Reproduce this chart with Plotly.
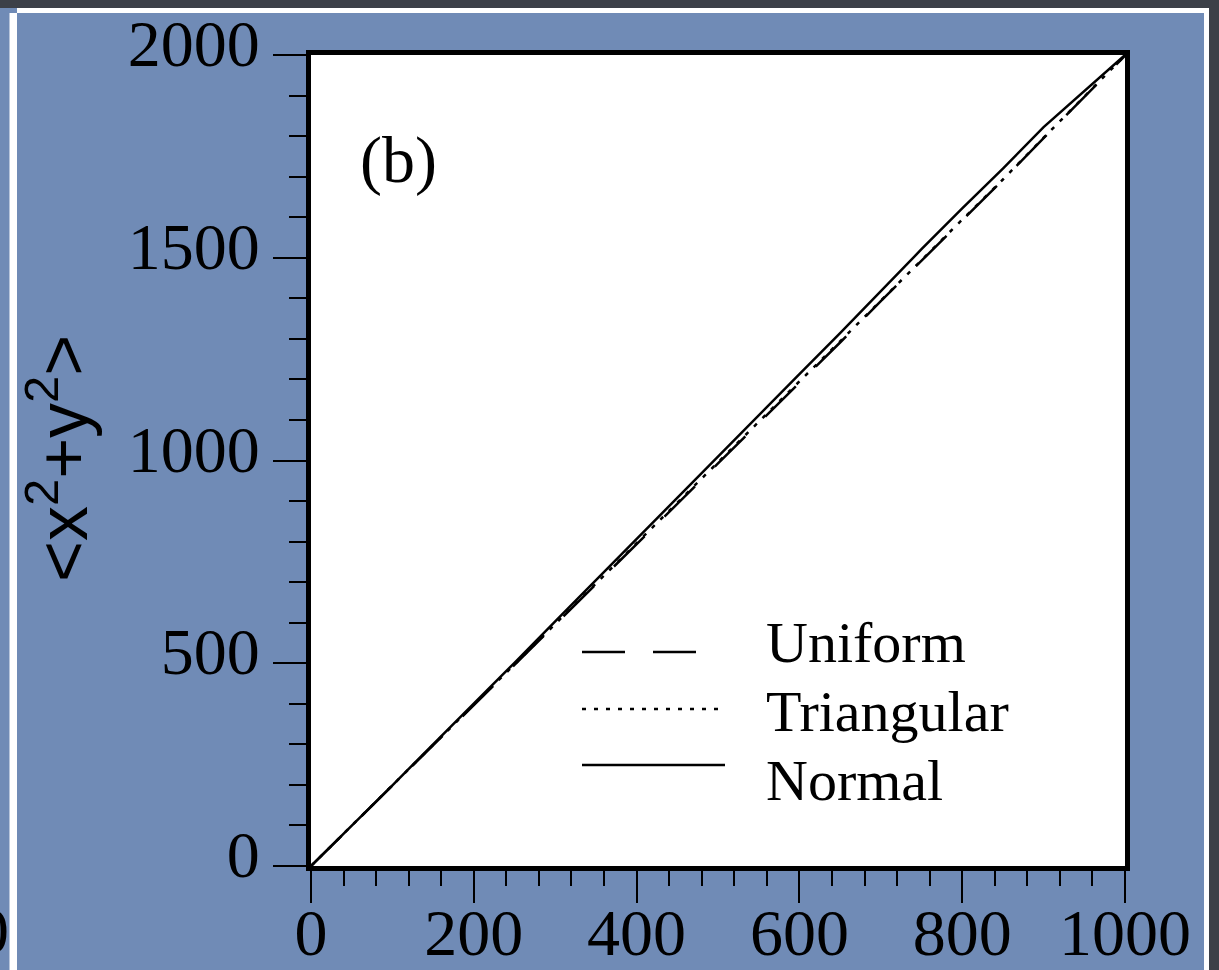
import plotly.graph_objects as go

# ---- data ----
steps = [0, 50, 100, 150, 200, 250, 300, 350, 400, 450, 500,
         550, 600, 650, 700, 750, 800, 850, 900, 950, 1000]
uniform = [0, 99, 198, 297, 397, 496, 595, 694, 794, 893, 993,
           1092, 1192, 1291, 1393, 1492, 1592, 1692, 1795, 1896, 1998]
triangular = [0, 100, 199, 298, 398, 497, 597, 696, 796, 896, 996,
              1095, 1195, 1294, 1395, 1494, 1594, 1693, 1796, 1897, 1999]
normal = [0, 99, 199, 300, 400, 501, 603, 705, 807, 908, 1010,
          1112, 1213, 1314, 1418, 1521, 1622, 1720, 1822, 1910, 2000]

series_names = ["Uniform", "Triangular", "Normal"]
series_dash = ["43px,28px", "4px,8px", "solid"]

x_ticks = [0, 200, 400, 600, 800, 1000]
y_ticks = [0, 500, 1000, 1500, 2000]

W, H = 1219, 970
L, R, T, B = 311, 94, 55, 104
PW, PH = W - L - R, H - T - B

def px(xp):
    return (xp - L) / PW

def py(yp):
    return (H - B - yp) / PH

BLUE = "#708bb6"
DARK = "#3c4048"
SERIF = "Liberation Serif, Times New Roman, serif"
SANS = "Liberation Sans, Arial, sans-serif"

fig = go.Figure()
for name, ys, dash in zip(series_names, [uniform, triangular, normal], series_dash):
    fig.add_trace(go.Scatter(x=steps, y=ys, mode="lines", name=name, showlegend=False,
                             line=dict(color="black", width=2.5, dash=dash)))

shapes = [
    # dark top band and right band
    dict(type="rect", xref="paper", yref="paper", x0=px(0), x1=px(W), y0=py(8), y1=py(0),
         fillcolor=DARK, line_width=0, layer="below"),
    dict(type="rect", xref="paper", yref="paper", x0=px(1209), x1=px(W), y0=py(H), y1=py(0),
         fillcolor=DARK, line_width=0, layer="below"),
    # white frame lines
    dict(type="rect", xref="paper", yref="paper", x0=px(17), x1=px(1209), y0=py(13), y1=py(8),
         fillcolor="white", line_width=0, layer="below"),
    dict(type="rect", xref="paper", yref="paper", x0=px(9.5), x1=px(17), y0=py(H), y1=py(13),
         fillcolor="white", line_width=0, layer="below"),
    dict(type="rect", xref="paper", yref="paper", x0=px(1204), x1=px(1209), y0=py(H), y1=py(8),
         fillcolor="white", line_width=0, layer="below"),
]

# legend key (drawn by hand to match the original's long samples)
key_line_y = [652, 709, 765]
key_text_y = [643, 711, 780]
for name, dash, ly, ty in zip(series_names, series_dash, key_line_y, key_text_y):
    x_end = 697 if name == "Uniform" else 725
    shapes.append(dict(type="line", xref="paper", yref="paper",
                       x0=px(582), x1=px(x_end), y0=py(ly), y1=py(ly),
                       line=dict(color="black", width=2.5, dash=dash), layer="above"))

annotations = [
    dict(text="(b)", x=58, y=1741, xref="x", yref="y", xanchor="left", yanchor="middle",
         showarrow=False, font=dict(family=SERIF, size=66, color="black")),
    dict(text="&lt;x<sup>2</sup>+y<sup>2</sup>&gt;", x=px(58), y=py(459),
         xref="paper", yref="paper", textangle=-90, xanchor="center", yanchor="middle",
         showarrow=False, font=dict(family=SANS, size=70, color="black")),
    dict(text="0", x=px(11), y=py(930), xref="paper", yref="paper",
         xanchor="right", yanchor="middle", showarrow=False,
         font=dict(family=SERIF, size=66, color="black")),
]
for name, ty in zip(series_names, key_text_y):
    annotations.append(dict(text=name, x=px(764), y=py(ty), xref="paper", yref="paper",
                            xanchor="left", yanchor="middle", showarrow=False,
                            font=dict(family=SERIF, size=58, color="black")))

fig.update_layout(
    width=W, height=H,
    margin=dict(l=L, r=R, t=T, b=B, pad=0),
    paper_bgcolor=BLUE, plot_bgcolor="white",
    shapes=shapes, annotations=annotations,
    showlegend=False,
    xaxis=dict(range=[0, 1000], tickvals=x_ticks, ticktext=[str(v) for v in x_ticks],
               showgrid=False, zeroline=False, showline=True, linewidth=5, linecolor="black",
               mirror=True, ticks="outside", ticklen=32, tickwidth=2, tickcolor="black",
               ticklabelstandoff=-27,
               minor=dict(dtick=40, ticks="outside", ticklen=15, tickwidth=2, tickcolor="black",
                          showgrid=False),
               tickfont=dict(family=SERIF, size=66, color="black"), automargin=False),
    yaxis=dict(range=[0, 2000], tickvals=y_ticks, ticktext=[str(v) for v in y_ticks],
               showgrid=False, zeroline=False, showline=True, linewidth=5, linecolor="black",
               mirror=True, ticks="outside", ticklen=33, tickwidth=2, tickcolor="black",
               ticklabelshift=-12,
               minor=dict(dtick=100, ticks="outside", ticklen=17, tickwidth=2, tickcolor="black",
                          showgrid=False),
               tickfont=dict(family=SERIF, size=66, color="black"), automargin=False),
)

fig.write_html("out.html")
